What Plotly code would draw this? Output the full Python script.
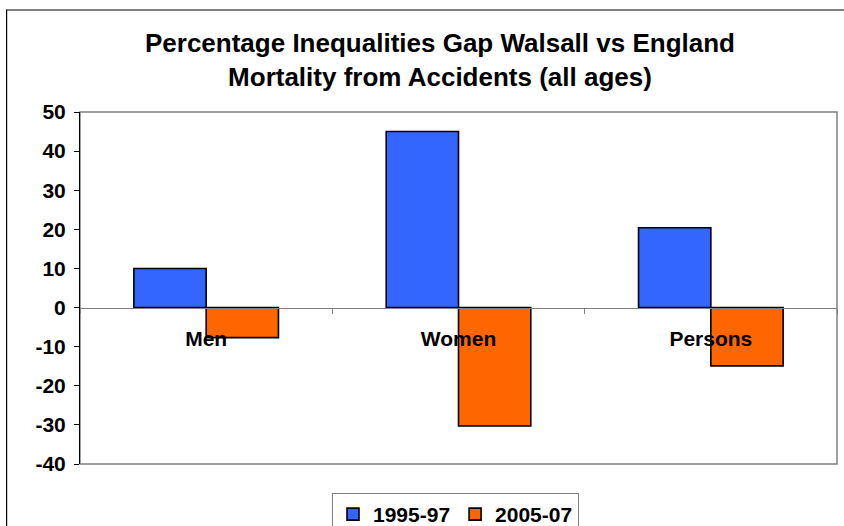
import plotly.graph_objects as go

# Data
categories = ["Men", "Women", "Persons"]
series_names = ["1995-97", "2005-07"]
values_1995_97 = [10.0, 45.0, 20.4]
values_2005_07 = [-7.7, -30.3, -14.9]
y_ticks = [-40, -30, -20, -10, 0, 10, 20, 30, 40, 50]

colors = ["#3366FF", "#FF6600"]
FONT = "Liberation Sans, Arial, sans-serif"

fig = go.Figure()
for name, vals, col in zip(series_names, [values_1995_97, values_2005_07], colors):
    fig.add_trace(go.Bar(
        x=categories, y=vals, name=name,
        marker=dict(color=col, line=dict(color="#000000", width=1.6)),
    ))

W, H = 844, 526
L, R, T, B = 79.5, 6.5, 112, 62
plot_w = W - L - R
plot_h = H - T - B

fig.update_layout(
    width=W, height=H,
    margin=dict(l=L, r=R, t=T, b=B, pad=0, autoexpand=False),
    paper_bgcolor="white", plot_bgcolor="white",
    barmode="group", bargap=0.427, bargroupgap=0,
    font=dict(family=FONT, color="#000000"),
    title=dict(
        text="Percentage Inequalities Gap Walsall vs England<br>Mortality from Accidents (all ages)",
        font=dict(family=FONT, size=26, weight="bold", color="#000000"),
        x=440 / W, xanchor="center", xref="container",
        y=1 - 52 / H, yanchor="top", yref="container",
        automargin=False,
    ),
    showlegend=True,
    legend=dict(
        orientation="h",
        x=(455.5 - L) / plot_w, xanchor="center",
        y=1 - 493 / H, yanchor="top", yref="container",
        font=dict(family=FONT, size=21, weight="bold", color="#000000"),
        bordercolor="#808080", borderwidth=1,
        bgcolor="white", itemwidth=30, tracegroupgap=0,
    ),
)

fig.update_yaxes(
    range=[-40, 50], tickvals=y_ticks, ticktext=[str(v) for v in y_ticks],
    showgrid=False, zeroline=False,
    showline=True, linecolor="#000000", linewidth=1,
    ticks="outside", ticklen=5, tickcolor="#000000", tickwidth=1,
    tickfont=dict(family=FONT, size=21, weight="bold", color="#000000"),
    ticklabelstandoff=4,
)

fig.update_xaxes(
    anchor="free", position=40 / 90,
    showgrid=False, zeroline=False,
    showline=True, linecolor="#808080", linewidth=1,
    ticks="outside", ticklen=5, tickcolor="#808080", tickwidth=1,
    tickson="boundaries",
    tickfont=dict(family=FONT, size=21, weight="bold", color="#000000"),
    ticklabelstandoff=12,
)

# Plot-area frame (top, right, bottom) and outer chart border
fig.add_shape(type="rect", xref="paper", yref="paper", x0=0, x1=1, y0=0, y1=1,
              line=dict(color="#808080", width=1.5), layer="below")
fig.add_shape(type="rect", xref="paper", yref="paper",
              x0=(6 - L) / plot_w, x1=(852 - L) / plot_w,
              y0=(T + plot_h - 560) / plot_h, y1=(T + plot_h - 10) / plot_h,
              line=dict(color="#000000", width=1.2), fillcolor="rgba(0,0,0,0)")

fig.write_html("out.html")
